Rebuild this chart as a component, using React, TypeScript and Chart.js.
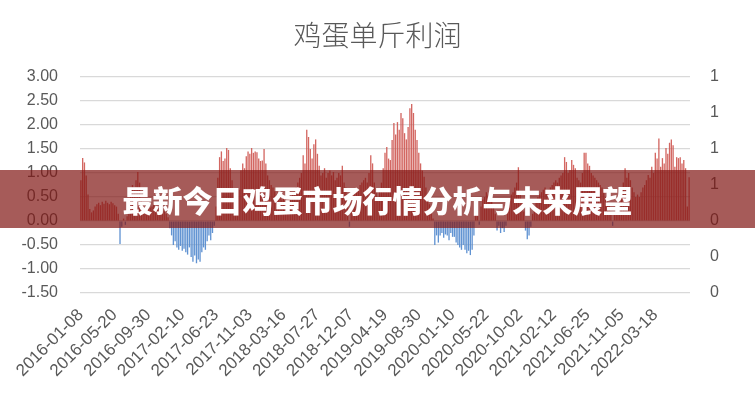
import React, { useEffect, useRef } from 'react';
import { Chart, registerables } from 'chart.js';

Chart.register(...registerables);

const chartTitle = '鸡蛋单斤利润';
const bannerText = '最新今日鸡蛋市场行情分析与未来展望';

const firstWeekUTC = Date.UTC(2016, 0, 8);

const tickLabels = [
  '2016-01-08', '2016-05-20', '2016-09-30', '2017-02-10', '2017-06-23', '2017-11-03',
  '2018-03-16', '2018-07-27', '2018-12-07', '2019-04-19', '2019-08-30', '2020-01-10',
  '2020-05-22', '2020-10-02', '2021-02-12', '2021-06-25', '2021-11-05', '2022-03-18',
];

const profit = [
  0.85, 1.31, 1.22, 0.95, 0.55, 0.25, 0.18, 0.22, 0.3, 0.35,
  0.38, 0.33, 0.4, 0.36, 0.42, 0.38, 0.35, 0.4, 0.37, 0.33,
  0.3, 0.15, -0.48, -0.12, 0.05, -0.08, 0.1, 0.35, 0.6, 0.75,
  0.7, 0.85, 1.02, 0.8, 0.45, 0.3, 0.2, 0.25, 0.3, 0.28,
  0.3, 0.35, 0.28, 0.25, 0.3, 0.33, 0.22, 0.2, 0.15, 0.08,
  -0.15, -0.3, -0.5, -0.42, -0.55, -0.6, -0.52, -0.62, -0.58, -0.65,
  -0.7, -0.55, -0.75, -0.85, -0.72, -0.88, -0.8, -0.85, -0.65, -0.55,
  -0.6, -0.42, -0.3, -0.4, -0.25, -0.1, 0.3, 0.9, 1.33, 1.45,
  1.25, 1.3, 1.52, 1.48, 1.1, 0.85, 0.6, 0.55, 0.5, 0.65,
  1.05, 1.2, 1.1, 1.35, 1.45, 1.4, 1.52, 1.42, 1.45, 1.43,
  1.3, 1.25, 1.26, 1.5, 1.2, 0.95, 0.85, 0.75, 0.7, 0.62,
  0.55, 0.6, 0.5, 0.45, 0.52, 0.48, 0.4, 0.45, 0.5, 0.55,
  0.6, 0.7, 0.8, 0.9, 1.0, 1.37, 1.2, 1.9, 1.75, 1.5,
  1.3, 1.6, 1.7, 1.4, 1.15, 0.95, 1.0, 1.1, 0.9, 1.0,
  1.05, 0.95, 1.02, 0.85, 0.9, 1.0, 0.95, 1.15, 0.8, 0.7,
  0.5, -0.12, 0.4, 0.55, 0.6, 0.7, 0.65, 0.75, 0.8, 0.85,
  0.9, 0.8, 1.0, 1.37, 1.2, 0.8, 0.6, 0.5, 0.65, 0.8,
  1.1, 1.42, 1.54, 1.3, 1.27, 1.69, 2.04, 1.8, 2.06, 1.9,
  2.25, 2.14, 1.83, 1.7, 1.96, 2.35, 2.44, 2.25, 1.9, 1.69,
  1.42, 1.2, 1.05, 0.92, 0.7, 0.5, 0.35, 0.2, 0.05, -0.5,
  -0.3, -0.45, -0.3, -0.25, -0.35, -0.28, -0.3, -0.4, -0.25, -0.33,
  -0.33, -0.45, -0.5, -0.55, -0.6, -0.5, -0.6, -0.67, -0.62, -0.71,
  -0.6, -0.3, 0.2, 0.4, -0.08, 0.3, 0.45, 0.5, 0.6, 0.55,
  0.5, 0.45, 0.3, 0.15, -0.2, -0.1, -0.25, -0.15, -0.23, -0.1,
  0.2, 0.4, 0.55, 0.6, 0.7, 0.8, 1.12, 0.6, 0.4, 0.2,
  -0.2, -0.38, -0.3, -0.12, 0.15, 0.3, 0.4, 0.5, 0.55, 0.6,
  0.65, 0.7, 0.6, 0.65, 0.7, 0.75, 0.8, 0.85, 0.8, 0.9,
  0.95, 1.0, 1.33, 1.23, 1.0, 1.06, 1.27, 1.17, 1.1, 0.9,
  0.85, 0.8, 1.0, 1.42, 1.42, 1.2, 1.15, 1.0, 0.95, 0.9,
  0.85, 0.8, 0.75, 0.7, 0.6, 0.5, 0.45, 0.35, 0.2, -0.1,
  0.15, 0.3, 0.4, 0.5, 0.6, 0.8, 1.1, 0.9, 1.0, 0.85,
  0.7, 0.6, 0.5, 0.55, 0.5, 0.6, 0.7, 0.75, 0.85, 0.96,
  0.9, 1.13, 1.0, 1.42, 1.3, 1.72, 1.13, 1.31, 1.2, 1.52,
  1.4, 1.63, 1.7, 1.58, 1.13, 1.33, 1.31, 1.33, 1.2, 1.27,
  1.1, 0.3, 0.91,
];

const categories = profit.map((_, i) =>
  new Date(firstWeekUTC + i * 7 * 86400000).toISOString().slice(0, 10)
);

const leftMin = -1.5;
const leftMax = 3;
const leftStep = 0.5;
const rightMin = 0;
const rightMax = 1.2;
const rightStep = 0.2;

const positiveColor = 'rgba(205, 82, 76, 0.88)';
const negativeColor = 'rgba(84, 138, 206, 0.92)';
const textColor = '#595959';
const gridColor = '#d9d9d9';

export default function App() {
  const canvasRef = useRef<HTMLCanvasElement | null>(null);

  useEffect(() => {
    document.body.style.margin = '0';
    const canvas = canvasRef.current;
    if (!canvas) return;
    const chart = new Chart(canvas, {
      type: 'bar',
      data: {
        labels: categories,
        datasets: [
          {
            label: chartTitle,
            data: profit,
            yAxisID: 'y',
            backgroundColor: (ctx: any) => {
              const v = ctx.raw as number;
              return v >= 0 ? positiveColor : negativeColor;
            },
            borderWidth: 0,
            barPercentage: 1,
            categoryPercentage: 0.75,
          },
        ],
      },
      options: {
        responsive: false,
        animation: false,
        events: [],
        layout: { padding: { top: 77, left: 0, right: 0, bottom: 0 } },
        plugins: {
          legend: { display: false },
          title: { display: false },
          tooltip: { enabled: false },
        },
        scales: {
          x: {
            grid: { display: false, drawTicks: false },
            border: { display: false },
            afterFit: (s: any) => {
              s.height = 107;
            },
            ticks: {
              autoSkip: false,
              minRotation: 45,
              maxRotation: 45,
              padding: 12,
              color: textColor,
              font: { family: "'Liberation Sans', Arial, sans-serif", size: 17 },
              callback: (_v: any, index: number) => {
                const lab = categories[index];
                return tickLabels.includes(lab) ? lab : '';
              },
            },
          },
          y: {
            position: 'left',
            min: leftMin,
            max: leftMax,
            grid: { color: gridColor, lineWidth: 1.2, drawTicks: false },
            border: { display: false },
            afterFit: (s: any) => {
              s.width = 80;
            },
            ticks: {
              stepSize: leftStep,
              padding: 22,
              color: textColor,
              font: { family: "'Liberation Sans', Arial, sans-serif", size: 16 },
              callback: (v: any) => Number(v).toFixed(2),
            },
          },
          y1: {
            position: 'right',
            min: rightMin,
            max: rightMax,
            grid: { display: false, drawTicks: false },
            border: { display: false },
            afterFit: (s: any) => {
              s.width = 65;
            },
            ticks: {
              stepSize: rightStep,
              padding: 20,
              color: textColor,
              font: { family: "'Liberation Sans', Arial, sans-serif", size: 16 },
              callback: (v: any) => String(Math.round(Number(v))),
            },
          },
        },
      },
    } as any);
    return () => chart.destroy();
  }, []);

  return (
    <div style={{ position: 'fixed', left: 0, top: 0, width: 755, height: 400, background: '#fff', overflow: 'hidden' }}>
      <canvas ref={canvasRef} width={755} height={400} style={{ display: 'block' }} />
      <div
        style={{
          position: 'absolute',
          left: 0,
          top: 16,
          width: 755,
          textAlign: 'center',
          fontFamily: "'Noto Sans CJK SC', sans-serif",
          fontWeight: 300,
          fontSize: 28,
          color: textColor,
          lineHeight: '36px',
        }}
      >
        {chartTitle}
      </div>
      <div
        style={{
          position: 'absolute',
          left: 0,
          top: 170,
          width: 755,
          height: 58,
          background: 'rgba(128, 22, 18, 0.7)',
          display: 'flex',
          alignItems: 'center',
          justifyContent: 'center',
          color: '#ffffff',
          fontFamily: "'Noto Sans CJK SC', sans-serif",
          fontWeight: 900,
          fontSize: 30,
          letterSpacing: 0,
        }}
      >
        {bannerText}
      </div>
    </div>
  );
}
